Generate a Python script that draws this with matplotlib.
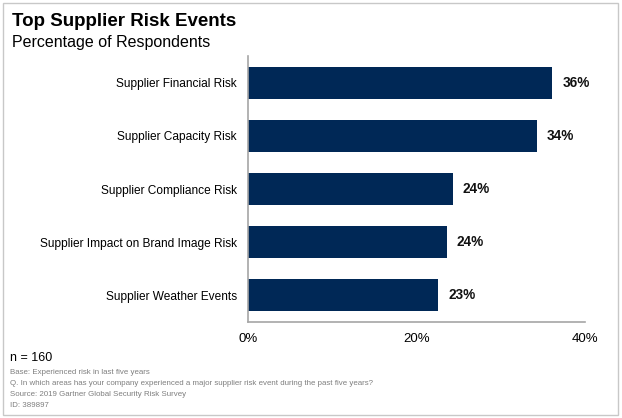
import matplotlib.pyplot as plt
from matplotlib.patches import Rectangle

plt.rcParams['font.family'] = ['Liberation Sans', 'DejaVu Sans']

categories = ['Supplier Financial Risk', 'Supplier Capacity Risk',
              'Supplier Compliance Risk', 'Supplier Impact on Brand Image Risk',
              'Supplier Weather Events']
values = [36.1, 34.3, 24.3, 23.6, 22.6]
value_labels = ['36%', '34%', '24%', '24%', '23%']
ticks = [0, 20, 40]
tick_labels = ['0%', '20%', '40%']

fig = plt.figure(figsize=(6.22, 4.18), dpi=100)
ax = fig.add_axes([248 / 622, 1 - 322 / 418, 337 / 622, 266 / 418])

ypos = list(range(len(categories)))
ax.barh(ypos, values, height=0.6, color='#002856')
for y, v, lab in zip(ypos, values, value_labels):
    ax.text(v + 1.2, y, lab, va='center', ha='left', fontsize=9.8,
            fontweight='bold', color='#111111')

ax.set_ylim(len(categories) - 0.5, -0.5)
ax.set_xlim(0, 40)
ax.set_yticks(ypos)
ax.set_yticklabels(categories, fontsize=8.6)
ax.set_xticks(ticks)
ax.set_xticklabels(tick_labels, fontsize=9.5)
ax.tick_params(axis='y', length=0, pad=8)
ax.tick_params(axis='x', length=0, pad=8)
for s in ['top', 'right']:
    ax.spines[s].set_visible(False)
for s in ['left', 'bottom']:
    ax.spines[s].set_color('#a6a6a6')
    ax.spines[s].set_linewidth(1.2)

fig.text(12 / 622, 1 - 22 / 418, 'Top Supplier Risk Events', fontsize=13.5,
         fontweight='bold', va='center', ha='left')
fig.text(12 / 622, 1 - 42 / 418, 'Percentage of Respondents', fontsize=11.5,
         va='center', ha='left')

fig.text(10 / 622, 1 - 358 / 418, 'n = 160', fontsize=9, va='center')
notes = ['Base: Experienced risk in last five years',
         'Q. In which areas has your company experienced a major supplier risk event during the past five years?',
         'Source: 2019 Gartner Global Security Risk Survey',
         'ID: 389897']
for i, n in enumerate(notes):
    fig.text(10 / 622, 1 - (372 + i * 11.3) / 418, n, fontsize=5.7,
             color='#7f7f7f', va='center')

fig.patches.append(Rectangle((3 / 622, 3 / 418), 615 / 622, 412 / 418,
                             transform=fig.transFigure, fill=False,
                             edgecolor='#c8c8c8', linewidth=1))

fig.savefig('out.png', dpi=100)
